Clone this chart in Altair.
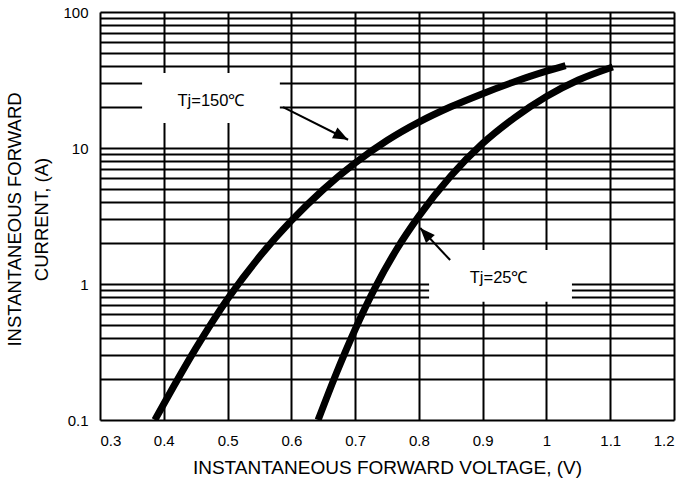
import altair as alt
import pandas as pd

# Curve data
v150 = [0.386, 0.45, 0.50, 0.55, 0.60, 0.65, 0.70, 0.75, 0.80, 0.85, 0.90, 0.95, 1.00, 1.03]
i150 = [0.1, 0.335, 0.776, 1.585, 2.92, 4.95, 7.76, 11.35, 15.5, 20.1, 25.1, 30.7, 36.7, 40.3]
v25 = [0.642, 0.67, 0.70, 0.73, 0.765, 0.80, 0.85, 0.90, 0.95, 1.00, 1.05, 1.104]
i25 = [0.1, 0.217, 0.463, 0.912, 1.795, 3.155, 6.22, 10.8, 16.7, 23.9, 31.6, 39.4]

# Axis ticks / grid
x_ticks = [0.3, 0.4, 0.5, 0.6, 0.7, 0.8, 0.9, 1.0, 1.1, 1.2]
y_grid = [0.1, 0.2, 0.3, 0.4, 0.5, 0.6, 0.7, 0.8, 0.9,
          1, 2, 3, 4, 5, 6, 7, 8, 9,
          10, 20, 30, 40, 50, 60, 70, 80, 90, 100]
y_labels = [0.1, 1, 10, 100]

# Annotations
ann_text = ["Tj=150℃", "Tj=25℃"]
ann_tx = [0.474, 0.925]
ann_ty = [22.2, 1.107]
box_x1 = [0.366, 0.816]
box_x2 = [0.582, 1.040]
box_y1 = [15.3, 0.74]
box_y2 = [35.6, 1.78]
arr_x1 = [0.587, 0.849]
arr_y1 = [20.0, 1.5]
arr_x2 = [0.689, 0.802]
arr_y2 = [11.5, 2.58]
arr_angle = [27, 227]

FONT = "Liberation Sans"

curves = pd.DataFrame(
    {"v": v150 + v25, "i": i150 + i25,
     "series": ["150"] * len(v150) + ["25"] * len(v25)}
)
ann = pd.DataFrame({
    "text": ann_text, "tx": ann_tx, "ty": ann_ty,
    "bx1": box_x1, "bx2": box_x2, "by1": box_y1, "by2": box_y2,
    "ax1": arr_x1, "ay1": arr_y1, "ax2": arr_x2, "ay2": arr_y2,
    "angle": arr_angle,
})

xscale = alt.Scale(domain=[0.3, 1.2], nice=False, zero=False)
yscale = alt.Scale(type="log", domain=[0.1, 100], nice=False)

label_test = "indexof(" + str(y_labels) + ", datum.value) >= 0 ? datum.label : ''"

x_axis = alt.Axis(
    values=x_ticks, format="~g", grid=True, gridColor="black", gridWidth=2,
    gridOpacity=1, domain=False, ticks=False, labelFont=FONT, labelFontSize=15,
    labelColor="black", labelPadding=13, title="INSTANTANEOUS FORWARD VOLTAGE, (V)",
    titleFont=FONT, titleFontSize=19, titleFontWeight="normal", titleColor="black",
    titlePadding=10,
)
y_axis = alt.Axis(
    values=y_grid, format="~g", labelExpr=label_test, grid=True, gridColor="black",
    gridWidth=2, gridOpacity=1, domain=False, ticks=False, labelFont=FONT,
    labelFontSize=15, labelColor="black", labelPadding=12,
    title=["INSTANTANEOUS FORWARD", "CURRENT, (A)"], titleFont=FONT,
    titleFontSize=18.5, titleFontWeight="normal", titleColor="black",
    titleAngle=-90, titleAlign="center", titleBaseline="middle",
    titleX=-86, titleY=207, titleLineHeight=27, labelFlush=False,
)

base_curves = alt.Chart(curves).mark_line(
    color="black", strokeWidth=7, interpolate="monotone", strokeCap="butt", clip=True
).encode(
    x=alt.X("v:Q", scale=xscale, axis=x_axis),
    y=alt.Y("i:Q", scale=yscale, axis=y_axis),
    detail="series:N",
)

boxes = alt.Chart(ann).mark_rect(fill="white").encode(
    x=alt.X("bx1:Q", scale=xscale), x2="bx2:Q",
    y=alt.Y("by1:Q", scale=yscale), y2="by2:Q",
)

texts = alt.Chart(ann).mark_text(
    font=FONT, fontSize=16.5, color="black", align="center", baseline="middle"
).encode(
    x=alt.X("tx:Q", scale=xscale), y=alt.Y("ty:Q", scale=yscale), text="text:N"
)

shafts = alt.Chart(ann).mark_rule(color="black", strokeWidth=2).encode(
    x=alt.X("ax1:Q", scale=xscale), x2="ax2:Q",
    y=alt.Y("ay1:Q", scale=yscale), y2="ay2:Q",
)

heads = alt.Chart(ann).mark_point(
    shape="M0,0L-2,-0.8L-2,0.8Z", filled=True, color="black", opacity=1, size=225
).encode(
    x=alt.X("ax2:Q", scale=xscale), y=alt.Y("ay2:Q", scale=yscale),
    angle=alt.Angle("angle:Q", scale=None),
)

chart = alt.layer(boxes, base_curves, shafts, heads, texts).properties(
    width=574, height=408,
    autosize=alt.AutoSizeParams(type="none"),
    padding={"left": 100, "top": 12, "right": 12, "bottom": 69},
).configure_view(
    stroke="black", strokeWidth=2
).configure(background="white")

chart.save("out.html", embed_options={"renderer": "svg", "actions": False})
